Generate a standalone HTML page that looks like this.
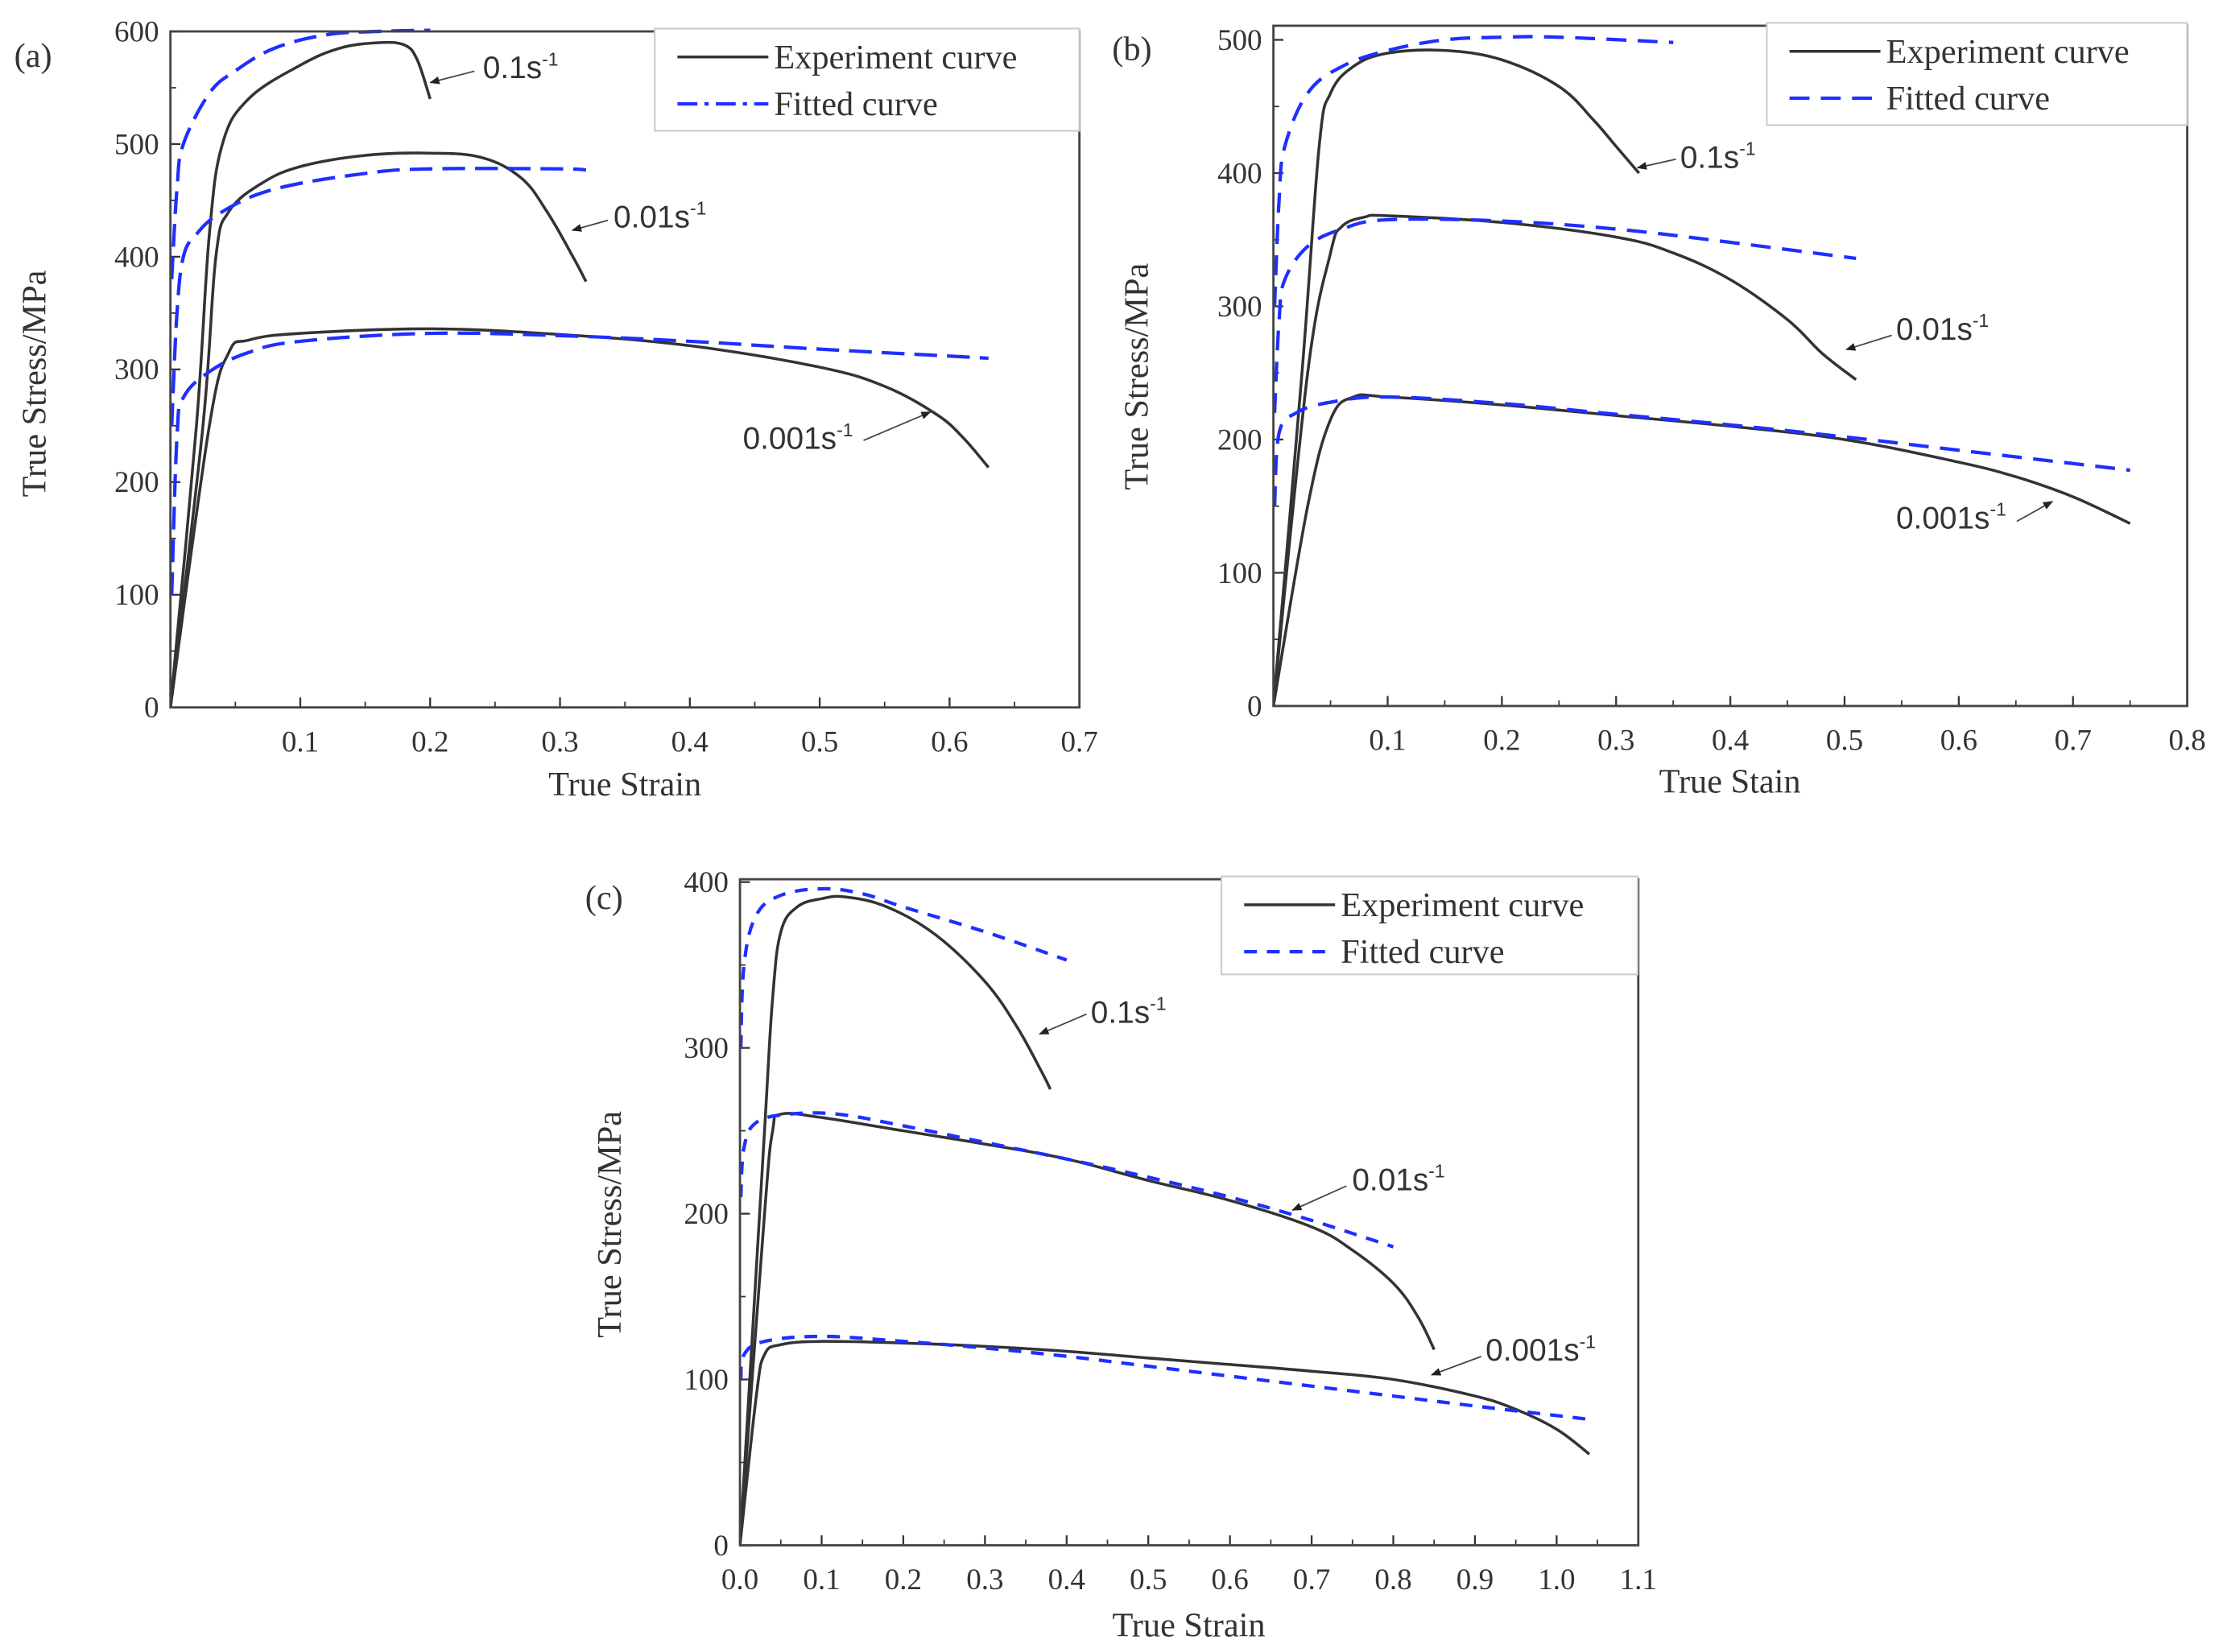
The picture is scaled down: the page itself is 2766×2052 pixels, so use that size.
<!DOCTYPE html>
<html><head><meta charset="utf-8"><style>
html,body{margin:0;padding:0;background:#fff;}
svg{display:block;}
.tk{font-family:"Liberation Serif",serif;font-size:21px;fill:#333;}
.lab{font-family:"Liberation Serif",serif;font-size:24px;fill:#333;}
.ann{font-family:"Liberation Sans",sans-serif;font-size:22px;fill:#333;}
</style></head><body>
<svg id="fig" width="2766" height="2052" viewBox="0 0 1568 1163" xmlns="http://www.w3.org/2000/svg">
<defs><marker id="ah" viewBox="0 0 10 10" refX="9" refY="5" markerWidth="7" markerHeight="7" orient="auto"><path d="M0,1 L10,5 L0,9 z" fill="#222"/></marker></defs>
</svg>
<script>
// Panel (a) data
const aExp01=[[0,0],[0.02,250],[0.03,420],[0.04,500],[0.06,540],[0.1,570],[0.13,585],[0.16,590],[0.18,588],[0.19,575],[0.2,540]];
const aFit01=[[0.001,380],[0.005,460],[0.01,500],[0.03,545],[0.05,565],[0.08,585],[0.12,597],[0.16,600],[0.2,601]];
const aExp001=[[0,0],[0.025,250],[0.035,400],[0.045,440],[0.07,465],[0.1,480],[0.15,490],[0.2,492],[0.24,488],[0.27,470],[0.29,440],[0.31,400],[0.32,378]];
const aFit001=[[0.001,250],[0.005,350],[0.01,400],[0.02,420],[0.04,440],[0.08,460],[0.15,474],[0.2,478],[0.3,478],[0.32,477]];
const aExp0001=[[0,0],[0.03,250],[0.045,315],[0.06,326],[0.1,332],[0.2,336],[0.3,331],[0.4,321],[0.5,302],[0.55,285],[0.59,260],[0.61,240],[0.63,213]];
const aFit0001=[[0.001,100],[0.005,240],[0.01,275],[0.03,298],[0.06,315],[0.1,325],[0.2,332],[0.3,330],[0.4,325],[0.5,318],[0.63,310]];
// Panel (b) data
const bExp01=[[0,0],[0.025,250],[0.04,420],[0.05,460],[0.07,480],[0.1,490],[0.15,492],[0.2,485],[0.25,465],[0.28,440],[0.3,420],[0.32,400]];
const bFit01=[[0.001,300],[0.005,380],[0.01,420],[0.03,460],[0.06,480],[0.1,492],[0.15,500],[0.2,502],[0.25,502],[0.35,498]];
const bExp001=[[0,0],[0.03,250],[0.05,340],[0.06,360],[0.08,367],[0.1,368],[0.2,363],[0.3,352],[0.35,340],[0.4,320],[0.45,290],[0.48,265],[0.51,245]];
const bFit001=[[0.001,220],[0.005,290],[0.01,320],[0.03,345],[0.06,358],[0.1,365],[0.2,364],[0.3,358],[0.4,348],[0.51,336]];
const bExp0001=[[0,0],[0.03,150],[0.05,215],[0.07,232],[0.1,232],[0.2,226],[0.3,218],[0.4,210],[0.5,200],[0.6,183],[0.65,172],[0.7,157],[0.75,137]];
const bFit0001=[[0.001,150],[0.005,205],[0.02,220],[0.05,228],[0.1,232],[0.2,227],[0.3,219],[0.4,211],[0.5,202],[0.6,192],[0.75,177]];
// Panel (c) data
const cExp01=[[0,0],[0.03,250],[0.04,330],[0.05,370],[0.07,385],[0.1,390],[0.13,391],[0.18,385],[0.24,368],[0.3,340],[0.34,312],[0.37,285],[0.38,275]];
const cFit01=[[0.001,300],[0.005,350],[0.02,380],[0.05,392],[0.1,396],[0.15,393],[0.2,385],[0.3,370],[0.4,353]];
const cExp001=[[0,0],[0.03,200],[0.04,250],[0.05,260],[0.1,258],[0.2,250],[0.3,242],[0.4,233],[0.5,220],[0.6,208],[0.7,192],[0.75,178],[0.8,158],[0.83,138],[0.85,118]];
const cFit001=[[0.001,210],[0.005,240],[0.02,255],[0.06,260],[0.12,260],[0.2,253],[0.3,243],[0.4,233],[0.5,222],[0.6,210],[0.7,196],[0.8,180]];
const cExp0001=[[0,0],[0.02,90],[0.03,115],[0.05,121],[0.1,123],[0.2,122],[0.3,120],[0.4,117],[0.5,113],[0.6,109],[0.7,105],[0.8,100],[0.9,90],[0.95,82],[1.0,70],[1.04,55]];
const cFit0001=[[0.001,100],[0.005,115],[0.03,123],[0.1,126],[0.2,123],[0.3,119],[0.4,114],[0.5,108],[0.6,102],[0.7,96],[0.8,90],[0.9,84],[1.04,76]];
const aXTicks=["0.1","0.2","0.3","0.4","0.5","0.6","0.7"];
const bXTicks=["0.1","0.2","0.3","0.4","0.5","0.6","0.7","0.8"];
const cXTicks=["0.0","0.1","0.2","0.3","0.4","0.5","0.6","0.7","0.8","0.9","1.0","1.1"];
const aYTicks=[0,100,200,300,400,500,600];
const bYTicks=[0,100,200,300,400,500];
const cYTicks=[0,100,200,300,400];

const NS="http://www.w3.org/2000/svg";
const svg=document.getElementById('fig');
function mk(tag,attrs,parent,text){const e=document.createElementNS(NS,tag);for(const k in attrs)e.setAttribute(k,attrs[k]);if(text!==undefined)e.textContent=text;(parent||svg).appendChild(e);return e;}
function smooth(P){
  let d='M'+P[0][0].toFixed(1)+','+P[0][1].toFixed(1);
  for(let i=0;i<P.length-1;i++){
    const p0=P[Math.max(0,i-1)],p1=P[i],p2=P[i+1],p3=P[Math.min(P.length-1,i+2)];
    const t=0.18;
    const c1=[p1[0]+(p2[0]-p0[0])*t,p1[1]+(p2[1]-p0[1])*t];
    const c2=[p2[0]-(p3[0]-p1[0])*t,p2[1]-(p3[1]-p1[1])*t];
    d+=' C'+c1[0].toFixed(1)+','+c1[1].toFixed(1)+' '+c2[0].toFixed(1)+','+c2[1].toFixed(1)+' '+p2[0].toFixed(1)+','+p2[1].toFixed(1);
  }
  return d;
}

function panel(p){
  const g=mk('g',{});
  
  
  const sx=v=>p.x0+(v-p.xmin)/(p.xmax-p.xmin)*(p.x1-p.x0);
  const sy=v=>p.y0-(v)/(p.ymax)*(p.y0-p.ytop);
  for(let i=0;i<p.xt.length;i++){
    const v=parseFloat(p.xt[i]);const x=sx(v);
    const t=mk('line',{x1:x,x2:x,y1:p.y0,y2:p.y0-7,stroke:'#333','stroke-width':1.3},g);
    
    const l=mk('text',{x:x,y:p.y0+31,'text-anchor':'middle',class:'tk'},g,p.xt[i]);
    
    const xm=sx(v-0.05);
    if(xm>p.x0+1) mk('line',{x1:xm,x2:xm,y1:p.y0,y2:p.y0-4,stroke:'#333','stroke-width':1},g);
  }
  for(let i=0;i<p.yt.length;i++){
    const v=p.yt[i];const y=sy(v);
    const t=mk('line',{x1:p.x0,x2:p.x0+7,y1:y,y2:y,stroke:'#333','stroke-width':1.3},g);
    
    const l=mk('text',{x:p.x0-8,y:y+7,'text-anchor':'end',class:'tk'},g,String(v));
    
    if(i>0){const ym=sy(v-50);mk('line',{x1:p.x0,x2:p.x0+4,y1:ym,y2:ym,stroke:'#333','stroke-width':1},g);}
  }
  const clip=mk('clipPath',{id:'clip'+p.id},g);
  mk('rect',{x:p.x0,y:p.ytop-8,width:p.x1-p.x0,height:p.y0-p.ytop+8},clip);
  const series=[[p.exp,false],[p.fit,true]];
  const names=['0.1','0.01','0.001'];
  for(const [arrs,fit] of series){
    arrs.forEach((arr,k)=>{
      const d=smooth(arr.map(pt=>[sx(pt[0]),sy(pt[1])]));
      const path=mk('path',{d:d,fill:'none',stroke:fit?'#1f2fff':'#333','stroke-width':fit?2.4:2,'stroke-dasharray':fit?p.dash:'none','stroke-linejoin':'round','clip-path':'url(#clip'+p.id+')'},g);
      
      
    });
  }
  const box=mk('rect',{x:p.x0,y:p.ytop,width:p.x1-p.x0,height:p.y0-p.ytop,fill:'none',stroke:'#444','stroke-width':1.6},g);
  
  const L=p.leg;
  const lg=mk('g',{},g);
  
  mk('rect',{x:L[0],y:L[1],width:L[2]-L[0],height:L[3]-L[1],fill:'#fff',stroke:'#ccc','stroke-width':1.2},lg);
  const e1=mk('g',{},lg);
  mk('line',{x1:L[0]+16,x2:L[0]+80,y1:L[1]+20,y2:L[1]+20,stroke:'#333','stroke-width':2},e1);
  mk('text',{x:L[0]+84,y:L[1]+28,class:'lab'},e1,'Experiment curve');
  const e2=mk('g',{},lg);
  mk('line',{x1:L[0]+16,x2:L[0]+80,y1:L[1]+53,y2:L[1]+53,stroke:'#1f2fff','stroke-width':2.4,'stroke-dasharray':p.ldash||p.dash},e2);
  mk('text',{x:L[0]+84,y:L[1]+61,class:'lab'},e2,'Fitted curve');
  const xt=mk('text',{x:p.xl[0],y:p.xl[1],'text-anchor':'middle',class:'lab'},g,p.xlabel);
  
  const yt=mk('text',{x:p.yl[0],y:p.yl[1],'text-anchor':'middle',class:'lab',transform:'rotate(-90 '+p.yl[0]+' '+p.yl[1]+')'},g,'True Stress/MPa');
  
  const pl=mk('text',{x:p.pl[0],y:p.pl[1],class:'lab','font-size':'28'},g,'('+p.id+')');
  
  p.ann.forEach((a,k)=>{
    const ag=mk('g',{},g);
    
    const t=mk('text',{x:a[0],y:a[1],class:'ann'},ag);
    mk('tspan',{},t,a[2]+'s');
    mk('tspan',{dy:-9,'font-size':13},t,'-1');
    mk('line',{x1:a[3],y1:a[4],x2:a[5],y2:a[6],stroke:'#444','stroke-width':1,'marker-end':'url(#ah)'},ag);
  });
}

panel({id:'a',x0:120,x1:760,xmin:0,xmax:0.7,y0:498,ytop:22,ymax:600,xt:aXTicks,yt:aYTicks,
  exp:[aExp01,aExp001,aExp0001],fit:[aFit01,aFit001,aFit0001],dash:'16 7',ldash:'14 5 3 5',
  leg:[461,20,760,92],xl:[440,560],yl:[32,270],xlabel:'True Strain',pl:[10,47],
  ann:[[340,55,'0.1',334,50,303,58],[432,160,'0.01',428,155,403,162],[523,316,'0.001',608,310,655,290]]});
panel({id:'b',x0:896.6,x1:1540,xmin:0,xmax:0.8,y0:497,ytop:18,ymax:510.6,xt:bXTicks,yt:bYTicks,
  exp:[bExp01,bExp001,bExp0001],fit:[bFit01,bFit001,bFit0001],dash:'14 8',
  leg:[1244,16,1540,88],xl:[1218,558],yl:[808,265],xlabel:'True Stain',pl:[783,42],
  ann:[[1183,118,'0.1',1180,112,1153,118],[1335,239,'0.01',1332,236,1300,246],[1335,372,'0.001',1420,367,1445,353]]});
panel({id:'c',x0:521,x1:1153.5,xmin:0,xmax:1.1,y0:1088,ytop:619,ymax:401.7,xt:cXTicks,yt:cYTicks,
  exp:[cExp01,cExp001,cExp0001],fit:[cFit01,cFit001,cFit0001],dash:'9 7',
  leg:[860,617,1153,686],xl:[837,1152],yl:[437,862],xlabel:'True Strain',pl:[412,640],
  ann:[[768,720,'0.1',765,714,732,728],[952,838,'0.01',948,835,910,852],[1046,958,'0.001',1043,955,1008,968]]});
</script>
</body></html>
